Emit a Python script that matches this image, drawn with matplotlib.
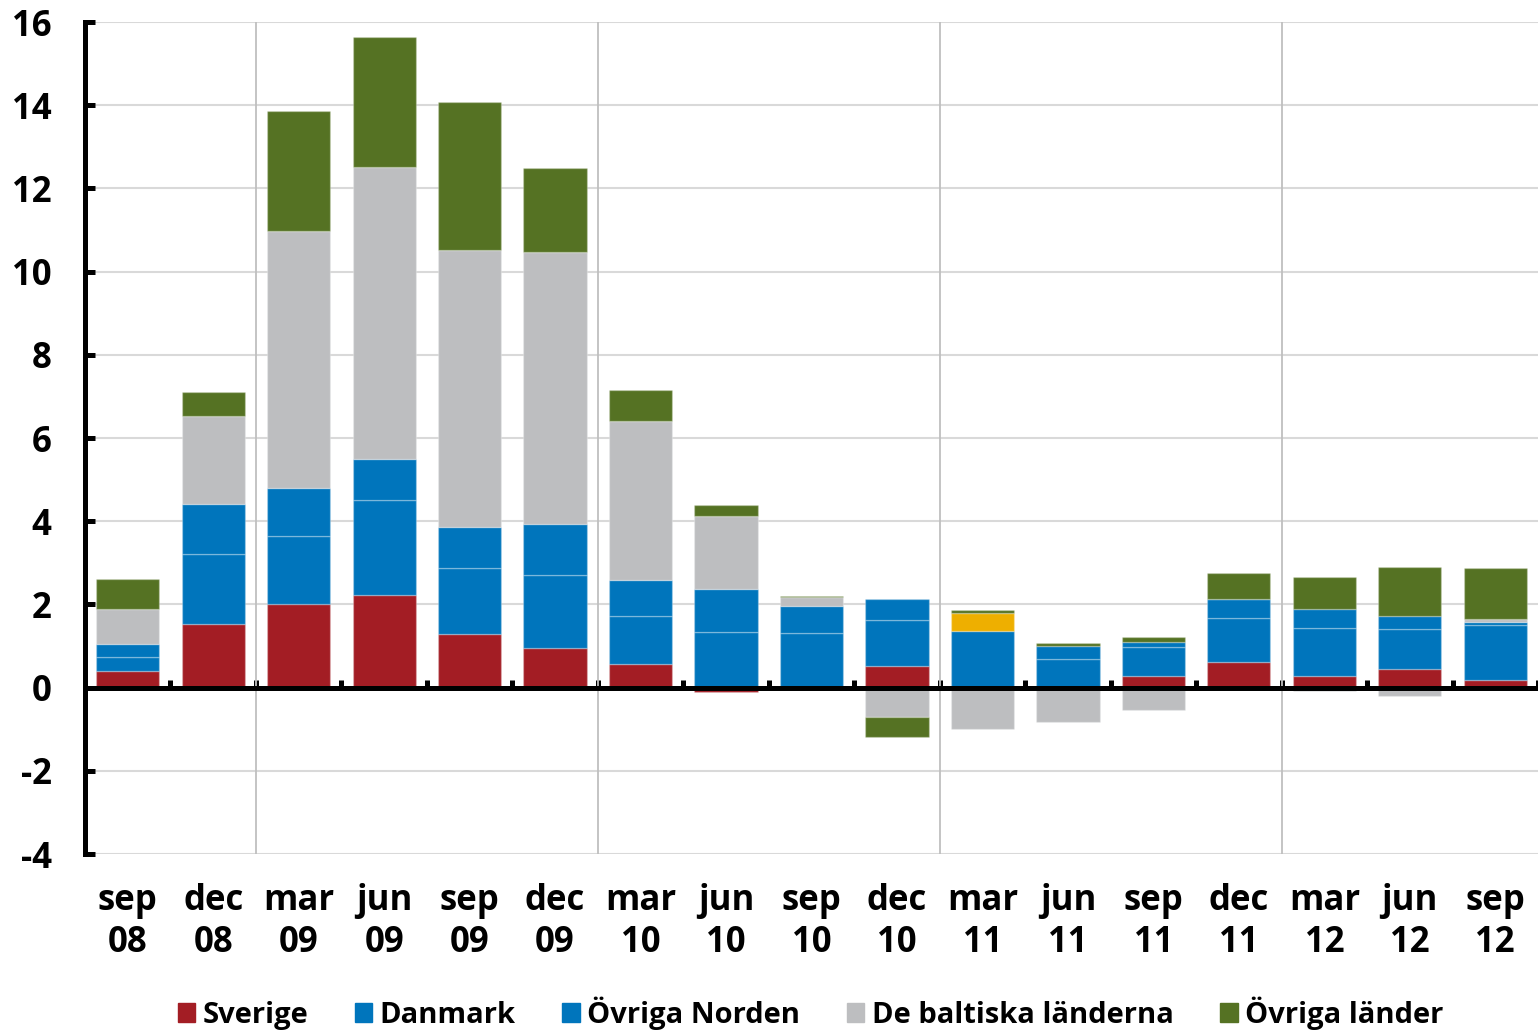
import matplotlib
matplotlib.use("Agg")
import matplotlib.pyplot as plt
import numpy as np

plt.rcParams['font.family'] = ['Open Sans', 'DejaVu Sans']
plt.rcParams['font.weight'] = 'bold'
plt.rcParams['axes.unicode_minus'] = False

categories = ["sep\n08", "dec\n08", "mar\n09", "jun\n09", "sep\n09", "dec\n09",
              "mar\n10", "jun\n10", "sep\n10", "dec\n10", "mar\n11", "jun\n11",
              "sep\n11", "dec\n11", "mar\n12", "jun\n12", "sep\n12"]

sverige = [0.41, 1.54, 2.02, 2.22, 1.30, 0.95, 0.57, -0.10, 0.0, 0.52, 0.0, 0.0,
           0.27, 0.62, 0.29, 0.44, 0.19]
danmark = [0.33, 1.66, 1.62, 2.29, 1.57, 1.76, 1.14, 1.33, 1.31, 1.11, 1.36, 0.69,
           0.70, 1.05, 1.14, 0.96, 1.31]
ovriga_norden = [0.31, 1.22, 1.17, 0.98, 1.00, 1.23, 0.87, 1.04, 0.64, 0.51, 0.43, 0.32,
                 0.13, 0.45, 0.47, 0.33, 0.08]
baltiska = [0.84, 2.12, 6.16, 7.02, 6.64, 6.53, 3.84, 1.75, 0.22, -0.71, -0.99, -0.83,
            -0.55, 0.0, -0.07, -0.19, 0.06]
ovriga_lander = [0.71, 0.56, 2.90, 3.13, 3.57, 2.02, 0.73, 0.26, 0.02, -0.48, 0.08, 0.07,
                 0.11, 0.63, 0.76, 1.18, 1.23]

series_names = ["Sverige", "Danmark", "Övriga Norden", "De baltiska länderna", "Övriga länder"]
series_values = [sverige, danmark, ovriga_norden, baltiska, ovriga_lander]
series_colors = ["#A31D24", "#0075BC", "#0075BC", "#BDBEC0", "#557223"]
highlight_color = "#EEAF00"   # single highlighted point (Övriga Norden, mar 11)
highlight_index = 10

fig = plt.figure(figsize=(15.38, 10.36), dpi=100)
ax = fig.add_axes([85/1538, (1036-854)/1036, (1538-85)/1538, (854-22)/1036])

x = np.arange(len(categories))
pos_bottom = np.zeros(len(categories))
neg_bottom = np.zeros(len(categories))
handles = []
for si, (name, vals, col) in enumerate(zip(series_names, series_values, series_colors)):
    v = np.array(vals, dtype=float)
    bottoms = np.where(v >= 0, pos_bottom, neg_bottom)
    cols = [col] * len(v)
    if name == "Övriga Norden":
        cols[highlight_index] = highlight_color
    ax.bar(x, v, width=0.74, bottom=bottoms, color=cols,
           edgecolor=(1, 1, 1, 0.25), linewidth=1.0, zorder=3)
    handles.append(plt.Rectangle((0, 0), 1, 1, color=col))
    pos_bottom = pos_bottom + np.where(v >= 0, v, 0)
    neg_bottom = neg_bottom + np.where(v < 0, v, 0)

ax.set_xlim(-0.47, len(categories) - 0.5)
ax.set_ylim(-4, 16)
ax.set_yticks(np.arange(-4, 17, 2))
ax.yaxis.grid(True, color="#D9D9D9", linewidth=1.5, zorder=0)
ax.set_axisbelow(True)
for xv in [1.5, 5.5, 9.5, 13.5]:
    ax.axvline(xv, color="#BFBFBF", linewidth=1.3, zorder=1)

for s in ['top', 'right']:
    ax.spines[s].set_visible(False)
ax.spines['left'].set_linewidth(3.6)
ax.spines['left'].set_zorder(5)
ax.spines['bottom'].set_position(('data', 0))
ax.spines['bottom'].set_linewidth(3.6)
ax.spines['bottom'].set_zorder(5)

ax.tick_params(axis='y', direction='in', length=7, width=3.6, pad=24,
               labelsize=25)
for lbl in ax.get_yticklabels():
    lbl.set_fontweight('bold')

ax.set_xticks(np.arange(-0.5, len(categories), 1.0))
ax.set_xticklabels([])
ax.tick_params(axis='x', direction='in', length=6, width=3.6)

sec = ax.secondary_xaxis(0)
sec.set_xticks(x)
sec.set_xticklabels(categories, fontsize=25, fontweight='bold', linespacing=1.22)
sec.tick_params(length=0, pad=21)
sec.spines['bottom'].set_visible(False)

fig.legend(handles, series_names, loc='center', bbox_to_anchor=(0.527, 0.022),
           ncol=5, frameon=False, handlelength=0.6, handleheight=0.6,
           handletextpad=0.25, columnspacing=1.6, borderaxespad=0,
           prop={'weight': 'bold', 'size': 21})

fig.savefig("out.png", dpi=100)
